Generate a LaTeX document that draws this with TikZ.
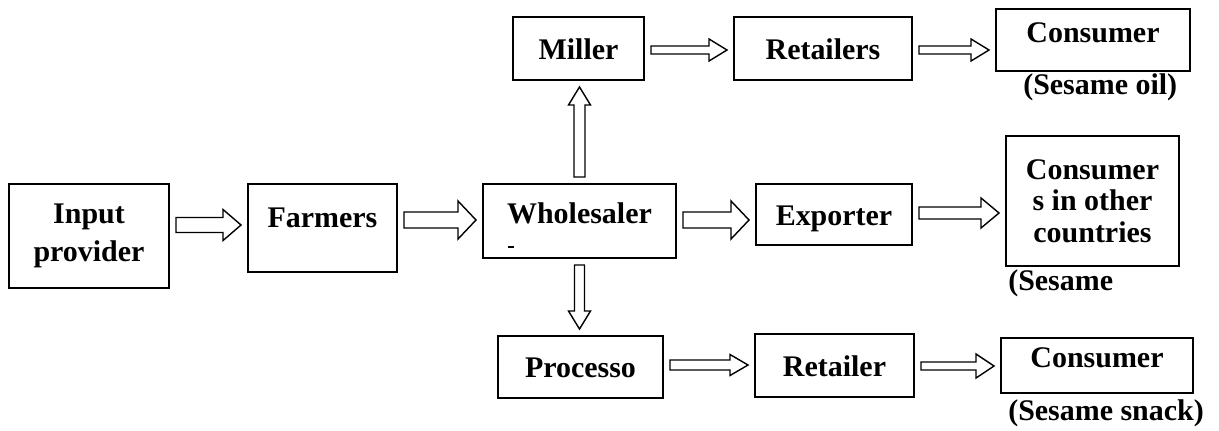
\documentclass[tikz,border=0pt]{standalone}
\usepackage{fontspec}
\setmainfont{Liberation Serif}
\usetikzlibrary{calc}

\newcommand{\tipgap}{4.3pt}
\newcommand{\tiplen}{12.8pt}

% hollow block arrow going right: from, to, y, shaft half width, head half width
\newcommand{\harrow}[5]{%
  \draw[blockarrow] let \p1=(#1.east), \p2=(#2.west), \p3=(0,#3), \p4=(#4,0), \p5=(#5,0) in
    (\x1+\tipgap,\y3+\x4) -- (\x2-\tipgap-\tiplen,\y3+\x4) -- (\x2-\tipgap-\tiplen,\y3+\x5)
    -- (\x2-\tipgap,\y3) -- (\x2-\tipgap-\tiplen,\y3-\x5) -- (\x2-\tipgap-\tiplen,\y3-\x4)
    -- (\x1+\tipgap,\y3-\x4) -- cycle;}

% hollow block arrow going up or down: tail anchor, tip anchor, shaft half width, head half width
\newcommand{\varrow}[4]{%
  \draw[blockarrow] let \p1=(#1), \p2=(#2), \p3=(#3,0), \p4=(#4,0),
      \n1={\y1+sign(\y2-\y1)*4.3}, \n2={\y2-sign(\y2-\y1)*(4.3+12.8)}, \n3={\y2-sign(\y2-\y1)*4.3} in
    (\x1-\x3,\n1) -- (\x1-\x3,\n2) -- (\x1-\x4,\n2) -- (\x1,\n3)
    -- (\x1+\x4,\n2) -- (\x1+\x3,\n2) -- (\x1+\x3,\n1) -- cycle;}

\tikzset{
  box/.style={draw, line width=1.3pt, inner sep=0pt, align=center,
    font=\fontsize{21.3}{22.5}\selectfont\bfseries},
  oneline/.style={text height=15pt, text depth=0pt},
  raised/.style={text depth=#1},
  blockarrow/.style={line width=1pt, line join=miter},
  note/.style={anchor=west, inner sep=0pt, font=\fontsize{21.3}{22.5}\selectfont\bfseries}
}

\begin{document}
\begin{tikzpicture}[x=0.025cm, y=-0.025cm]
    \useasboundingbox (0,0) rectangle (1219,430);

    \node[box, minimum width=4cm, minimum height=2.6cm] (input) at (89,236) {Input\\[5pt]provider};
    \node[box, oneline, raised=0.55cm, minimum width=3.725cm, minimum height=2.2cm] (farmers) at (322.5,228) {Farmers};
    \node[box, oneline, raised=0.4cm, minimum width=4.825cm, minimum height=1.85cm] (wholesaler) at (579.5,221) {Wholesaler};
    \node[box, oneline, minimum width=3.9cm, minimum height=1.525cm] (exporter) at (834,214.5) {Exporter};
    \node[box, minimum width=4.325cm, minimum height=3.25cm] (abroad) at (1092.5,201) {Consumer\\s in other\\countries};

    \node[box, oneline, minimum width=3.275cm, minimum height=1.575cm] (miller) at (578.5,48.5) {Miller};
    \node[box, oneline, minimum width=4.45cm, minimum height=1.575cm] (retailers) at (823,48.5) {Retailers};
    \node[box, oneline, raised=0.4cm, minimum width=4.85cm, minimum height=1.55cm] (oilbuyer) at (1093,40) {Consumer};

    \node[box, oneline, minimum width=4.125cm, minimum height=1.55cm] (processor) at (580.5,367) {Processo};
    \node[box, oneline, minimum width=3.975cm, minimum height=1.575cm] (retailer) at (834.5,365.5) {Retailer};
    \node[box, oneline, raised=0.42cm, minimum width=4.8cm, minimum height=1.375cm] (snackbuyer) at (1097,365.5) {Consumer};

    \node[note] (oilnote) at (1023,87) {(Sesame oil)};
    \node[note] (abroadnote) at (1008,283) {(Sesame};
    \node[note] (snacknote) at (1008,413) {(Sesame snack)};

    \draw[line width=0.8pt] (508,247) -- (514,247);

    \harrow{input}{farmers}{225}{7.5}{15.5}
    \harrow{farmers}{wholesaler}{220}{8}{19}
    \harrow{wholesaler}{exporter}{220}{8}{19}
    \harrow{exporter}{abroad}{213}{6}{15}
    \harrow{miller}{retailers}{50}{4}{11}
    \harrow{retailers}{oilbuyer}{50}{4}{11}
    \harrow{processor}{retailer}{365}{5}{10.5}
    \harrow{retailer}{snackbuyer}{366}{4}{12}
    \varrow{wholesaler.north}{miller.south}{5.5}{11}
    \varrow{wholesaler.south}{processor.north}{5}{11}
\end{tikzpicture}
\end{document}
